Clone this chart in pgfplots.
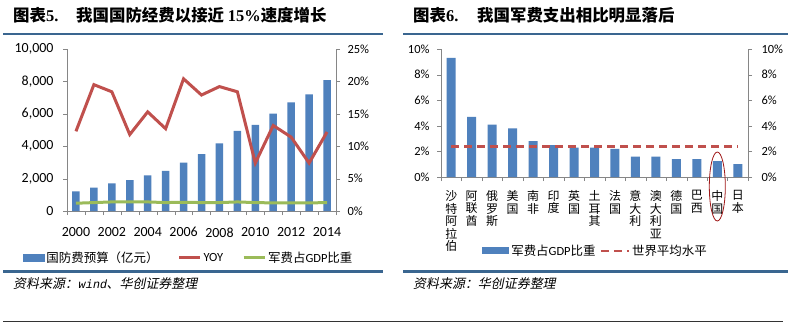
\documentclass[border=0pt]{standalone}
\usepackage{fontspec}
\usepackage{pgfplots}
\pgfplotsset{compat=1.18}
\setmainfont{Carlito}
\newfontfamily\cjk{Noto Sans CJK SC}
\newfontfamily\cjkit[FakeSlant=0.2]{Noto Sans CJK SC}
\newfontfamily\tnr{Liberation Serif}
\newfontfamily\monoit[FakeSlant=0.2]{Liberation Mono}
\definecolor{barblue}{HTML}{4F81BD}
\definecolor{linered}{HTML}{C0504D}
\definecolor{linegreen}{HTML}{9BBB59}
\definecolor{rulec}{HTML}{3A6690}
\definecolor{axgray}{HTML}{868686}
\definecolor{ellred}{HTML}{A01818}
\begin{document}
\begin{tikzpicture}[x=1bp,y=1bp]
\path[use as bounding box, fill=white] (0,0) rectangle (793,-323);
% titles
\node[anchor=west, inner sep=0] at (13,-15) {\fontsize{16.5}{18}\selectfont\bfseries{\cjk 图表}{\tnr 5.}};
\node[anchor=west, inner sep=0] at (76,-15) {\fontsize{16.5}{18}\selectfont\bfseries{\cjk 我国国防经费以接近 }{\tnr 15\%}{\cjk 速度增长}};
\node[anchor=west, inner sep=0] at (413,-15) {\fontsize{16.5}{18}\selectfont\bfseries{\cjk 图表}{\tnr 6.}};
\node[anchor=west, inner sep=0] at (477,-15) {\fontsize{16.5}{18}\selectfont\bfseries{\cjk 我国军费支出相比明显落后}};
% rules
\draw[rulec, line width=2.5bp] (3,-34) -- (383,-34);
\draw[rulec, line width=2.5bp] (403,-34) -- (788,-34);
\draw[rulec, line width=2.5bp] (3,-271.5) -- (383,-271.5);
\draw[rulec, line width=2.5bp] (403,-271.5) -- (788,-271.5);
\draw[black!80, line width=0.8bp] (3,-321) -- (783,-321);
% sources
\node[anchor=west, inner sep=0] at (13,-284) {\fontsize{13}{14}\selectfont{\cjkit 资料来源：}{\monoit\fontsize{12}{14}\selectfont wind}{\cjkit 、华创证券整理}};
\node[anchor=west, inner sep=0] at (413,-284) {\fontsize{13}{14}\selectfont{\cjkit 资料来源：华创证券整理}};

% ---------- left chart ----------
\begin{axis}[
  at={(67bp,-211bp)}, anchor=south west, scale only axis,
  width=269bp, height=162bp,
  xmin=-0.5, xmax=14.5, ymin=0, ymax=10000,
  scaled y ticks=false, scaled x ticks=false,
  axis x line*=bottom, axis y line*=left,
  axis line style={draw=axgray, -}, tick style={draw=axgray},
  tick align=outside, major tick length=4bp, minor tick length=4bp,
  xtick={0,2,...,14},
  xticklabels={2000,2002,2004,2006,2008,2010,2012,2014},
  minor xtick={-0.5,0.5,...,14.5},
  every major x tick/.append style={draw=none},
  ytick={0,2000,4000,6000,8000,10000},
  yticklabels={0,{2,000},{4,000},{6,000},{8,000},{10,000}},
  ticklabel style={font=\fontsize{14}{14}\selectfont, text=black},
  yticklabel style={xshift=-6bp},
  xticklabel style={yshift=-9bp},
]
\addplot[ybar, bar width=7.5bp, fill=barblue, draw=none] coordinates {
(0,1207) (1,1442) (2,1708) (3,1908) (4,2200) (5,2475) (6,2979) (7,3509)
(8,4179) (9,4951) (10,5321) (11,6011) (12,6703) (13,7202) (14,8082)};
\end{axis}
\begin{axis}[
  at={(67bp,-211bp)}, anchor=south west, scale only axis,
  width=269bp, height=162bp,
  xmin=-0.5, xmax=14.5, ymin=0, ymax=25,
  axis x line=none, axis y line*=right,
  axis line style={draw=axgray, -}, tick style={draw=axgray},
  tick align=outside, major tick length=4bp,
  ytick={0,5,10,15,20,25},
  yticklabels={0\%,5\%,10\%,15\%,20\%,25\%},
  ticklabel style={font=\fontsize{12.5}{13}\selectfont, text=black},
  yticklabel style={xshift=4bp},
  legend columns=3,
  legend image code/.code={\draw[#1] (0bp,0bp) -- (21bp,0bp);},
  legend style={at={(axis description cs:-0.164,-0.29)}, anchor=west,
    draw=none, fill=none, inner sep=0pt,
    font=\fontsize{12.5}{13}\selectfont,
    /tikz/every even column/.append style={column sep=17bp}},
  legend cell align=left,
]
\addlegendimage{legend image code/.code={\fill[barblue] (0bp,-3.5bp) rectangle (21bp,3.5bp);}}
\addlegendentry{\cjk 国防费预算（亿元）}
\addplot[linered, line width=3bp] coordinates {
(0,12.3) (1,19.5) (2,18.4) (3,11.8) (4,15.3) (5,12.7) (6,20.4) (7,17.9)
(8,19.2) (9,18.4) (10,7.4) (11,13.2) (12,11.4) (13,7.4) (14,12.2)};
\addlegendentry{YOY}
\addplot[linegreen, line width=3bp] coordinates {
(0,1.2) (1,1.3) (2,1.4) (3,1.4) (4,1.4) (5,1.3) (6,1.35) (7,1.3)
(8,1.3) (9,1.4) (10,1.3) (11,1.25) (12,1.25) (13,1.25) (14,1.3)};
\addlegendentry{{\cjk 军费占}GDP{\cjk 比重}}
\end{axis}

% ---------- right chart ----------
\begin{axis}[
  at={(441bp,-177bp)}, anchor=south west, scale only axis,
  width=307bp, height=128bp,
  xmin=-0.5, xmax=14.5, ymin=0, ymax=10,
  axis x line*=bottom, axis y line*=left,
  axis line style={draw=axgray, -}, tick style={draw=axgray},
  tick align=outside, major tick length=4bp, minor tick length=4bp,
  clip=false,
  xtick={0,1,...,14},
  xticklabels={{沙\\特\\阿\\拉\\伯},{阿\\联\\酋},{俄\\罗\\斯},{美\\国},{南\\非},{印\\度},{英\\国},{土\\耳\\其},{法\\国},{意\\大\\利},{澳\\大\\利\\亚},{德\\国},{巴\\西},{中\\国},{日\\本}},
  minor xtick={-0.5,0.5,...,14.5},
  every major x tick/.append style={draw=none},
  xticklabel style={align=center, font=\cjk\fontsize{12}{12.6}\selectfont, text=black, anchor=north, yshift=-6bp},
  ytick={0,2,4,6,8,10},
  yticklabels={0\%,2\%,4\%,6\%,8\%,10\%},
  yticklabel style={font=\fontsize{12.5}{13}\selectfont, text=black, xshift=-4bp},
  legend columns=2,
  legend image code/.code={\draw[#1] (0bp,0bp) -- (28bp,0bp);},
  legend style={at={(axis description cs:0.134,-0.578)}, anchor=west,
    draw=none, fill=none, inner sep=0pt,
    font=\fontsize{12.5}{13}\selectfont,
    /tikz/every even column/.append style={column sep=2bp}},
  legend cell align=left,
]
\addplot[ybar, bar width=9bp, fill=barblue, draw=none,
  legend image code/.code={\fill[barblue] (0bp,-3.5bp) rectangle (27bp,3.5bp);}] coordinates {
(0,9.3) (1,4.7) (2,4.1) (3,3.8) (4,2.8) (5,2.5) (6,2.3) (7,2.3)
(8,2.2) (9,1.6) (10,1.6) (11,1.4) (12,1.4) (13,1.25) (14,1.0)};
\addlegendentry{{\cjk 军费占}GDP{\cjk 比重}}
\addplot[linered, line width=2.5bp, dash pattern=on 8bp off 5bp] coordinates {(0,2.4) (14,2.4)};
\addlegendentry{\cjk 世界平均水平}
\draw[ellred, line width=0.8bp] (axis cs:13,0) ++(0bp,-9.5bp) ellipse [x radius=8bp, y radius=34.5bp];
\end{axis}
\begin{axis}[
  at={(441bp,-177bp)}, anchor=south west, scale only axis,
  width=307bp, height=128bp,
  xmin=-0.5, xmax=14.5, ymin=0, ymax=10,
  axis x line=none, axis y line*=right,
  axis line style={draw=axgray, -}, tick style={draw=axgray},
  tick align=outside, major tick length=4bp,
  ytick={0,2,4,6,8,10},
  yticklabels={0\%,2\%,4\%,6\%,8\%,10\%},
  yticklabel style={font=\fontsize{12.5}{13}\selectfont, text=black, xshift=6bp},
]
\addplot[draw=none] coordinates {(0,0)};
\end{axis}
\end{tikzpicture}
\end{document}
